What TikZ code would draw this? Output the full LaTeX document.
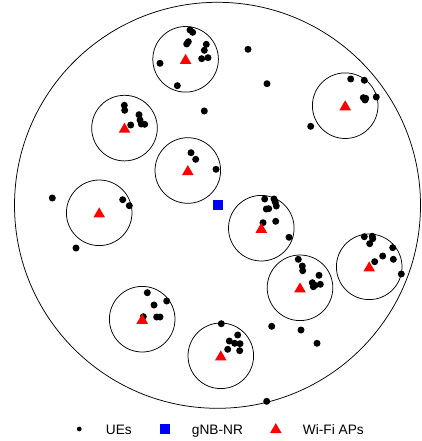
\documentclass[tikz,border=0pt]{standalone}
\usepackage{fontspec}
\setmainfont{Liberation Sans}
\begin{document}
\begin{tikzpicture}[x=1pt,y=-1pt,
  cell/.style={draw=black,line width=0.75pt},
  uedot/.style={fill=black},
  gnbsq/.style={fill=blue},
  legtext/.style={anchor=base west,inner sep=0pt,font=\fontsize{13.7}{16}\selectfont},
  ap/.pic={\fill[red] (-5.8,4.6) -- (5.8,4.6) -- (0,-5.4) -- cycle;}]
\useasboundingbox (0,0) rectangle (422,441);
% macro cell
\draw[cell] (217.5,205.3) circle (203);
\foreach \x/\y in {185.6/59.3,345.2/105.7,124.5/128.1,187.8/170.5,99.2/212.8,261.3/228.2,369.2/266.8,300/287.8,142.2/319.2,220.8/355.8}
  \draw[cell] (\x,\y) circle (32.8);
% UEs
\foreach \x/\y in {190/30,192.7/32.3,186.7/44,188.3/41.7,206.3/44.3,204.3/50.3,201.7/58.7,208/57.7,160/63.3,177.3/85.7,
  248/49.3,267/83.7,204.3/111,310.7/126.3,
  350.7/79,364.3/80.3,363.3/97.7,365/100,365.7/98.3,376.3/97,
  124.3/105.3,124.7/110.3,139/114.7,140/120,141.3/124,144.7/124.3,130.7/125,
  191/152.7,195.7/159.3,216/169.3,
  52.3/198,122.7/199.7,129.3/205.7,76/248,
  264.7/199,274/199,275.3/202.3,276.3/206,266.3/209,268.7/208.7,263/222.7,275.7/221.3,289/237.3,
  364.3/236.7,372.3/236.3,372.7/238.7,369.7/243.7,392.7/247.7,382.7/256,393.3/259.3,374.7/261.7,401.3/274,
  298.3/259.3,302.3/266,302.7/270.7,319/275.3,312.3/282.7,315/285.3,320.3/284.3,313.3/286.7,
  147.3/292.7,166.7/301,154/305,156.7/317,160/317,143.3/316.7,
  221.3/323.7,237.7/335,229.3/341,234.7/343.3,240/343.7,227.7/349.3,239.7/350.7,
  271.7/326.3,301/330,317/343.3,266.7/401.3}
  \fill[uedot] (\x,\y) circle (3.5);
% gNB
\fill[gnbsq] (212.5,200.3) rectangle (222.5,210.3);
% APs
\foreach \x/\y in {185.6/59.3,345.2/105.7,124.5/128.1,187.8/170.5,99.2/212.8,261.3/228.2,369.2/266.8,300/287.8,142.2/319.2,220.8/355.8}
  \pic at (\x,\y) {ap};
% legend
\fill[uedot] (79.3,429) circle (2.4);
\node[legtext] (lue) at (105.7,434) {UEs};
\fill[gnbsq] (160,424.2) rectangle (170,434.2);
\node[legtext] (lgnb) at (191.7,434) {gNB-NR};
\pic at (275.8,428.5) {ap};
\node[legtext] (lap) at (302.7,434) {Wi-Fi APs};
\end{tikzpicture}
\end{document}
